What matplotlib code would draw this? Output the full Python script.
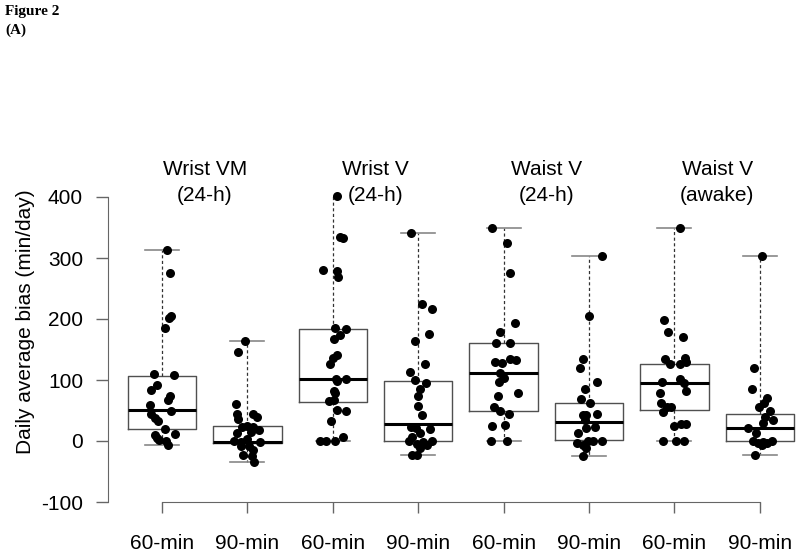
import matplotlib
matplotlib.use("Agg")
import matplotlib.pyplot as plt

plt.rcParams['font.family'] = ['Liberation Sans', 'DejaVu Sans']

# ---- data ----
tick_labels = ["60-min", "90-min", "60-min", "90-min", "60-min", "90-min", "60-min", "90-min"]
group_titles = [("Wrist VM", "(24-h)"), ("Wrist V", "(24-h)"), ("Waist V", "(24-h)"), ("Waist V", "(awake)")]

# box statistics
whisker_low = [-7, -35, 0, -23.5, 0, -24.6, 0, -23.5]
q1 = [19.5, -4, 64, 0, 49, 1, 51, 0]
median = [51, -1, 102, 28, 112, 31, 94.5, 20.7]
q3 = [106, 24.6, 183, 99, 160, 62, 125.6, 45]
whisker_high = [313, 164, 401, 341, 349, 303, 349, 304]

# individual points (values) and their horizontal jitter (category units)
vals_1 = [313, 275, 205, 201, 186, 110, 108, 92, 84, 73, 67, 59, 50, 45, 37, 33, 19, 11.5, 10, 4.4, 1.6, 0.5, -6.5]
jit_1 = [0.06, 0.09, 0.11, 0.08, 0.04, -0.09, 0.14, -0.06, -0.13, 0.09, 0.07, -0.14, 0.11, -0.13, -0.08, -0.05, 0.04, 0.15, -0.08, -0.06, -0.03, 0.05, 0.07]
vals_2 = [164, 146, 60.7, 45, 35.5, 45, 40, 24.6, 23, 23, 18, 13.7, 15, 0.5, -1, -1, 3, -9, -9, -15, -23.5, -25, -35]
jit_2 = [-0.03, -0.11, -0.13, -0.12, -0.11, 0.07, 0.11, 0.0, -0.06, 0.07, 0.14, -0.12, 0.04, -0.16, -0.08, 0.15, 0.0, -0.08, 0.02, 0.07, -0.05, 0.05, 0.08]
vals_3 = [401, 334, 333, 280, 279, 269, 186, 183, 174, 167, 141, 136, 126, 101, 101, 98, 82, 78, 67, 65, 51, 49, 33, 7, 0, 0, 0]
jit_3 = [0.05, 0.09, 0.12, -0.11, 0.05, 0.06, 0.02, 0.15, 0.09, 0.01, 0.05, 0.0, -0.03, 0.04, 0.16, 0.05, 0.01, 0.02, 0.01, -0.05, 0.05, 0.15, -0.02, 0.12, -0.15, -0.08, 0.02]
vals_4 = [341, 224, 216, 176, 164, 127, 113, 100, 94.5, 85, 74, 57, 42.6, 23.5, 21, 19, 12.5, 7, 0.5, 0.5, -1, -5.5, -7, -12, -23, -23]
jit_4 = [-0.08, 0.04, 0.16, 0.13, -0.04, 0.08, -0.10, -0.04, 0.09, 0.02, 0.0, 0.0, 0.04, -0.09, -0.02, 0.14, 0.02, -0.07, -0.11, 0.16, 0.06, -0.01, 0.10, 0.02, -0.07, -0.01]
vals_5 = [349, 324, 275, 193, 178, 160, 161, 130, 135, 133, 128, 112, 103, 97, 78, 73, 55, 49, 44, 27, 24, 0, 0]
jit_5 = [-0.14, 0.04, 0.08, 0.13, -0.04, -0.09, 0.08, -0.10, 0.07, 0.15, -0.02, -0.04, 0.0, -0.05, 0.17, -0.07, -0.11, -0.04, 0.06, 0.02, -0.13, -0.15, 0.04]
vals_6 = [303, 205, 134, 119, 97, 86, 69, 62, 43, 43, 44, 34, 23.5, 21, 12.5, -4, -7, 0.5, 0.5, 0.5, -12, -24.6]
jit_6 = [0.15, 0.0, -0.07, -0.11, 0.09, -0.05, -0.09, 0.01, -0.07, -0.03, 0.09, -0.05, 0.07, -0.03, -0.13, -0.14, -0.07, -0.01, 0.05, 0.15, -0.04, -0.07]
vals_7 = [349, 198, 178, 170, 134, 136, 125.6, 125.6, 130, 97, 101, 94.5, 82.5, 78, 63, 56, 55, 47, 28, 28, 24, 0, 0, 0]
jit_7 = [0.06, -0.12, -0.08, 0.10, -0.11, 0.12, -0.05, 0.06, 0.14, -0.14, 0.06, 0.11, 0.14, -0.17, -0.16, -0.09, -0.04, -0.13, 0.08, 0.14, -0.01, -0.13, 0.02, 0.11]
vals_8 = [304, 119, 85, 70, 63, 55, 49, 40, 34, 30, 20.7, 12.5, 0.5, -3, -1, -3, 0.5, -7, -23.5]
jit_8 = [0.02, -0.07, -0.09, 0.08, 0.05, -0.01, 0.12, 0.06, 0.16, 0.04, -0.14, -0.04, -0.08, -0.02, 0.04, 0.08, 0.14, 0.02, -0.06]

values = [vals_1, vals_2, vals_3, vals_4, vals_5, vals_6, vals_7, vals_8]
jitters = [jit_1, jit_2, jit_3, jit_4, jit_5, jit_6, jit_7, jit_8]
y_ticks = [-100, 0, 100, 200, 300, 400]

# ---- figure ----
W, H = 800, 558
fig = plt.figure(figsize=(W / 100, H / 100), dpi=100)
ax = fig.add_axes([108 / W, 1 - 502 / H, 692 / W, 305 / H])

positions = list(range(1, len(tick_labels) + 1))
stats = [dict(med=m, q1=a, q3=b, whislo=lo, whishi=hi)
         for m, a, b, lo, hi in zip(median, q1, q3, whisker_low, whisker_high)]
ax.bxp(stats, positions=positions, widths=0.8, capwidths=0.4, showfliers=False,
       boxprops=dict(color='#505050', linewidth=1.0),
       whiskerprops=dict(color='#333333', linewidth=0.9, linestyle=(0, (2.5, 2))),
       capprops=dict(color='#888888', linewidth=1.2),
       medianprops=dict(color='black', linewidth=2.2))

for p, v, j in zip(positions, values, jitters):
    xs = [p + d for d in j]
    ax.plot(xs, v, 'o', color='black', markersize=6.5, markeredgewidth=0,
            clip_on=False, zorder=5)

left = 1 - 54 / 85.4
ax.set_xlim(left, left + 692 / 85.4)
ax.set_ylim(-100, 400)

for s in ['top', 'right']:
    ax.spines[s].set_visible(False)
ax.spines['left'].set_color('#666666')
ax.spines['bottom'].set_color('#666666')
ax.spines['left'].set_bounds(-100, 400)
ax.spines['bottom'].set_bounds(1, 8)

ax.set_yticks(y_ticks)
ax.set_yticklabels([str(t) for t in y_ticks])
ax.set_xticks(positions)
ax.set_xticklabels(tick_labels)
ax.tick_params(axis='y', length=8.6, width=1, color='#666666', pad=9.4, labelsize=15)
ax.tick_params(axis='x', length=8, width=1, color='#666666', pad=15, labelsize=15)

tr = ax.get_xaxis_transform()
for i, (t1, t2) in enumerate(group_titles):
    xc = positions[2 * i] + 0.5
    ax.text(xc, (502 - 175) / 305, t1, transform=tr, ha='center', va='baseline', fontsize=15)
    ax.text(xc, (502 - 201) / 305, t2, transform=tr, ha='center', va='baseline', fontsize=15)

fig.text(26 / W, 1 - 321.5 / H, "Daily average bias (min/day)", rotation=90,
         ha='center', va='center', fontsize=15)

fig.text(5 / W, 1 - 14.7 / H, "Figure 2", family='Liberation Serif', weight='bold',
         fontsize=11, ha='left', va='baseline')
fig.text(5 / W, 1 - 34.3 / H, "(A)", family='Liberation Serif', weight='bold',
         fontsize=11, ha='left', va='baseline')

fig.savefig("out.png", dpi=100)
